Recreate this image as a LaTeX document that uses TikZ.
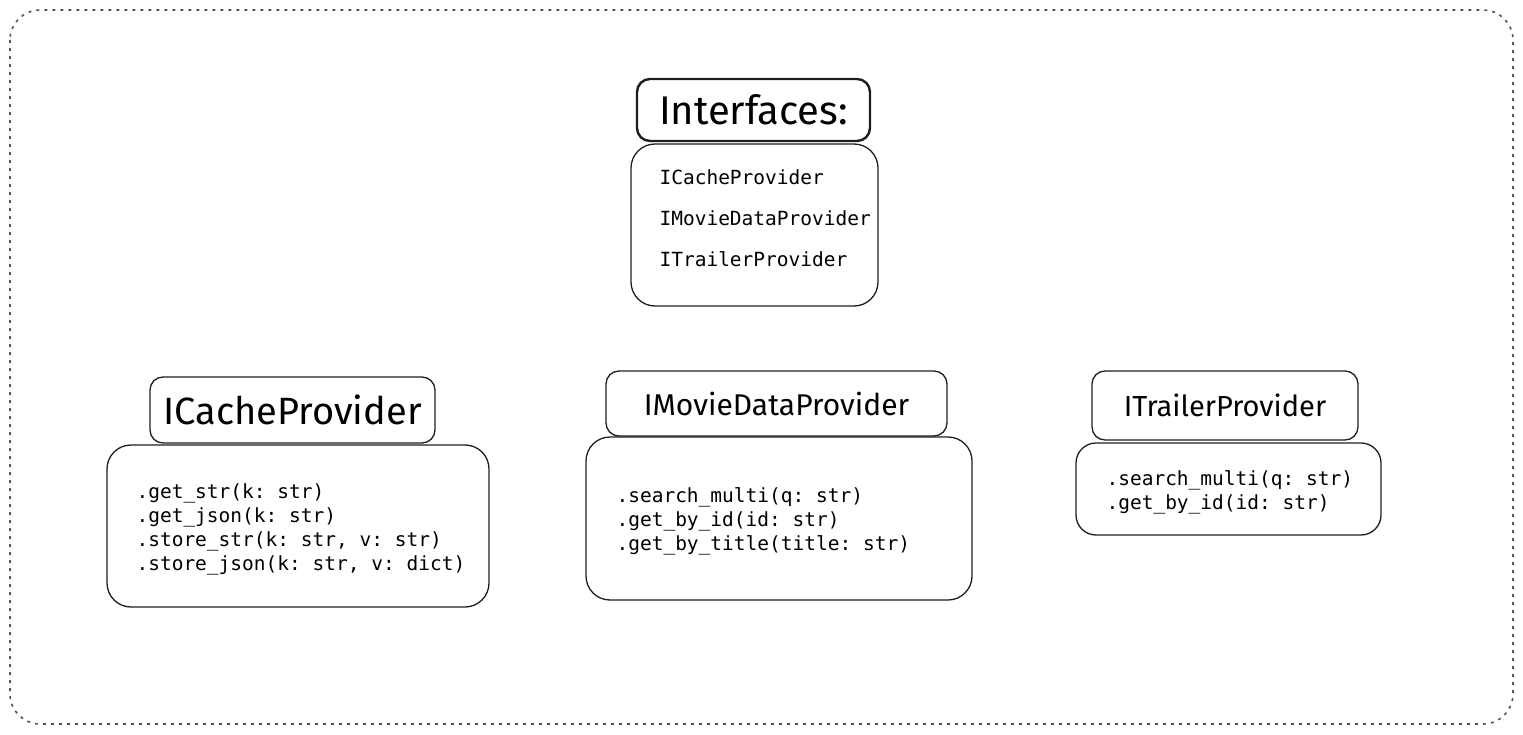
\documentclass[tikz,border=0pt]{standalone}
\usepackage{fontspec}
\setmonofont{DejaVu Sans Mono}
\newfontfamily\mainlevee{Fira Sans}
\definecolor{trait}{HTML}{1E1E1E}
\definecolor{cadre}{HTML}{555555}
\usetikzlibrary{positioning}

\begin{document}
\begin{tikzpicture}[x=1pt, y=-1pt,
    titre/.style={draw=trait, rounded corners=13pt, line width=1.3pt, inner sep=0pt},
    boite/.style={draw=trait, rounded corners=24pt, line width=1.3pt, inner sep=0pt},
    code/.style={anchor=west, align=left, inner sep=0pt, font=\ttfamily\fontsize{19.5}{24}\selectfont}]
    \useasboundingbox (0,0) rectangle (1523,735);
    % Cadre
    \draw[cadre, line width=1.6pt, dash pattern=on 3pt off 5pt, rounded corners=30pt] (10,10) rectangle (1513,724);
    % Interfaces
    \node[titre, line width=2.4pt, minimum width=233pt, minimum height=62pt,
      font=\mainlevee\fontsize{40}{42}\selectfont] (interfaces) at (753.5,110) {Interfaces:};
    \node[boite, minimum width=247pt, minimum height=162pt] (interfaces-liste) at (754.5,225) {};
    \node[code, font=\ttfamily\fontsize{19.5}{41}\selectfont, right=29pt of interfaces-liste.west, yshift=7pt] (interfaces-texte)
      {ICacheProvider\\IMovieDataProvider\\ITrailerProvider};
    % ICacheProvider
    \node[titre, minimum width=285pt, minimum height=66pt,
      font=\mainlevee\fontsize{38}{42}\selectfont] (cache) at (292.5,410) {ICacheProvider};
    \node[boite, minimum width=382pt, minimum height=162pt] (cache-liste) at (298,526) {};
    \node[code, right=30pt of cache-liste.west, yshift=-3pt] (cache-texte)
      {.get\_str(k: str)\\.get\_json(k: str)\\.store\_str(k: str, v: str)\\.store\_json(k: str, v: dict)};
    % IMovieDataProvider
    \node[titre, minimum width=341pt, minimum height=65pt,
      font=\mainlevee\fontsize{30}{34}\selectfont] (film) at (776.5,403.5) {IMovieDataProvider};
    \node[boite, minimum width=386pt, minimum height=163pt] (film-liste) at (779,518.5) {};
    \node[code, right=31pt of film-liste.west, yshift=-3pt] (film-texte)
      {.search\_multi(q: str)\\.get\_by\_id(id: str)\\.get\_by\_title(title: str)};
    % ITrailerProvider
    \node[titre, minimum width=266pt, minimum height=69pt,
      font=\mainlevee\fontsize{29}{32}\selectfont] (bande) at (1225,405.5) {ITrailerProvider};
    \node[boite, rounded corners=20pt, minimum width=305pt, minimum height=92pt] (bande-liste) at (1228.5,489) {};
    \node[code, right=31pt of bande-liste.west, yshift=-3pt] (bande-texte)
      {.search\_multi(q: str)\\.get\_by\_id(id: str)};
  \end{tikzpicture}
\end{document}
